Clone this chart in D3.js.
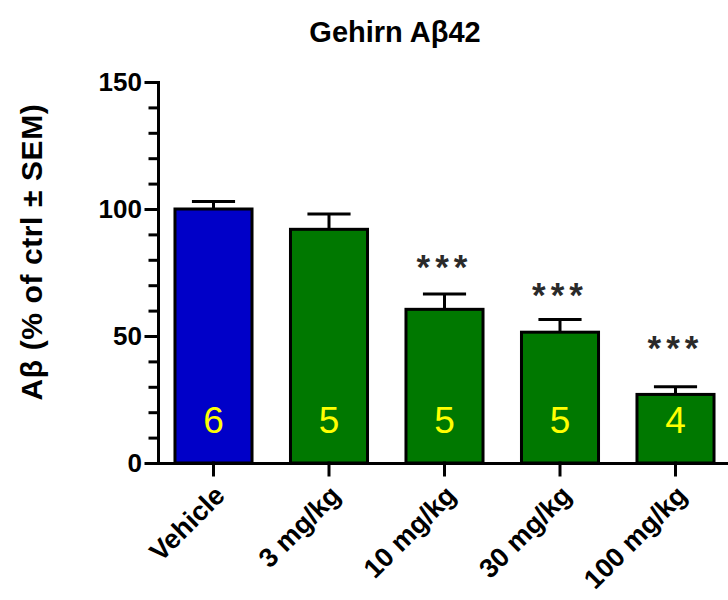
<!DOCTYPE html>
<html>
<head>
<meta charset="utf-8">
<script src="https://cdn.jsdelivr.net/npm/d3@7"></script>
<style>
  html, body { margin: 0; padding: 0; background: #fff; }
  svg { display: block; font-family: "Liberation Sans", Arial, Helvetica, sans-serif; }
</style>
</head>
<body>
<svg id="chart" width="728" height="600"></svg>
<script>
// Brain Aβ42 levels per treatment group (% of vehicle control, mean ± SEM)
const categories   = ["Vehicle", "3 mg/kg", "10 mg/kg", "30 mg/kg", "100 mg/kg"];
const means        = [100, 92, 60.5, 51.5, 27];
const sems         = [3, 6, 6, 5, 3];
const groupSizes   = [6, 5, 5, 5, 4];
const significance = ["", "", "***", "***", "***"];
const sigLevel     = [null, null, 81, 70, 49];   // axis value where each star label sits
const yMajorTicks  = [0, 50, 100, 150];
const yMinorTicks  = [0, 10, 20, 30, 40, 50, 60, 70, 80, 90, 100, 110, 120, 130, 140, 150];

const data = categories.map((c, i) => ({
  cat: c, mean: means[i], sem: sems[i], n: groupSizes[i],
  sig: significance[i], sigAt: sigLevel[i]
}));

const svg = d3.select("#chart");

const x = d3.scaleBand()
  .domain(categories)
  .range([158, 731])
  .paddingInner(0.333)
  .paddingOuter(0.147);

const y = d3.scaleLinear().domain([0, 150]).range([463, 82]);

const color = d3.scaleOrdinal()
  .domain(categories)
  .range(["#0000c8", "#007800", "#007800", "#007800", "#007800"]);

// Title
svg.append("text")
  .attr("x", 395).attr("y", 42)
  .attr("text-anchor", "middle")
  .attr("font-size", 29).attr("font-weight", "bold")
  .text("Gehirn Aβ42");

// Y-axis title
svg.append("text")
  .attr("transform", "translate(42,252) rotate(-90)")
  .attr("text-anchor", "middle")
  .attr("font-size", 30).attr("font-weight", "bold")
  .attr("letter-spacing", 0.6)
  .text("Aβ (% of ctrl ± SEM)");

// Bars
svg.append("g").selectAll("rect")
  .data(data).join("rect")
  .attr("x", d => x(d.cat))
  .attr("y", d => y(d.mean))
  .attr("width", x.bandwidth())
  .attr("height", d => y(0) - y(d.mean))
  .attr("fill", d => color(d.cat))
  .attr("stroke", "#000")
  .attr("stroke-width", 3);

// Upper SEM whiskers
const capHalf = x.bandwidth() * 0.28;
const err = svg.append("g").attr("stroke", "#000").attr("stroke-width", 3);
err.selectAll("line.stem").data(data).join("line")
  .attr("class", "stem")
  .attr("x1", d => x(d.cat) + x.bandwidth() / 2)
  .attr("x2", d => x(d.cat) + x.bandwidth() / 2)
  .attr("y1", d => y(d.mean))
  .attr("y2", d => y(d.mean + d.sem));
err.selectAll("line.cap").data(data).join("line")
  .attr("class", "cap")
  .attr("x1", d => x(d.cat) + x.bandwidth() / 2 - capHalf)
  .attr("x2", d => x(d.cat) + x.bandwidth() / 2 + capHalf)
  .attr("y1", d => y(d.mean + d.sem))
  .attr("y2", d => y(d.mean + d.sem));

// Group sizes inside the bars
svg.append("g").selectAll("text")
  .data(data).join("text")
  .attr("x", d => x(d.cat) + x.bandwidth() / 2)
  .attr("y", y(0) - 30)
  .attr("text-anchor", "middle")
  .attr("font-size", 37)
  .attr("fill", "#ffff00")
  .text(d => d.n);

// Significance stars
svg.append("g").selectAll("text")
  .data(data.filter(d => d.sig)).join("text")
  .attr("x", d => x(d.cat) + x.bandwidth() / 2)
  .attr("y", d => y(d.sigAt))
  .attr("dy", "0.62em")
  .attr("text-anchor", "middle")
  .attr("font-size", 35)
  .attr("font-weight", "bold")
  .attr("letter-spacing", 5)
  .attr("fill", "#2a2a2a")
  .text(d => d.sig);

// Y axis: minor ticks then major ticks with labels
const yMinor = svg.append("g")
  .attr("transform", "translate(158,0)")
  .call(d3.axisLeft(y).tickValues(yMinorTicks).tickSize(8).tickSizeOuter(0).tickFormat(""));
yMinor.select(".domain").remove();

const yAxis = svg.append("g")
  .attr("transform", "translate(158,0)")
  .call(d3.axisLeft(y).tickValues(yMajorTicks).tickSize(12).tickSizeOuter(0).tickPadding(4));
yAxis.selectAll("text")
  .attr("font-size", 26).attr("font-weight", "bold")
  .attr("font-family", "Liberation Sans, Arial, sans-serif")
  .attr("fill", "#000");

// X axis
const xAxis = svg.append("g")
  .attr("transform", `translate(0,${y(0)})`)
  .call(d3.axisBottom(x).tickSize(12).tickSizeOuter(0));
xAxis.selectAll("text")
  .attr("font-size", 27).attr("font-weight", "bold")
  .attr("font-family", "Liberation Sans, Arial, sans-serif")
  .attr("fill", "#000")
  .attr("text-anchor", "end")
  .attr("x", 0).attr("y", 0).attr("dy", 0)
  .attr("transform", "translate(13,34) rotate(-45)");

svg.selectAll(".domain, .tick line")
  .attr("stroke", "#000")
  .attr("stroke-width", 3)
  .attr("stroke-linecap", "square");
</script>
</body>
</html>
